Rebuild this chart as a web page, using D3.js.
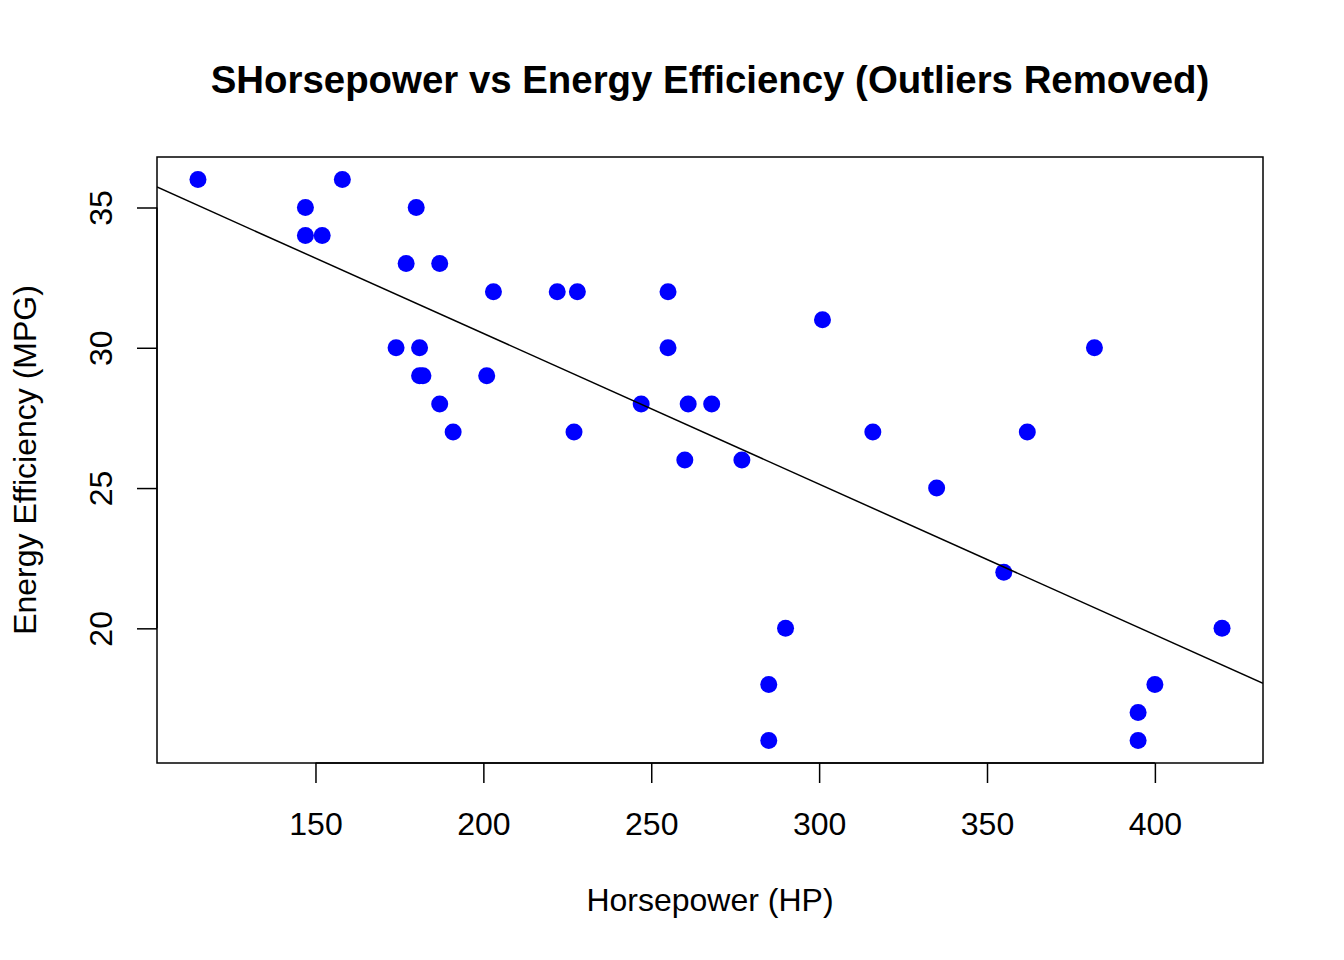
<!DOCTYPE html>
<html>
<head>
<meta charset="utf-8">
<script src="https://cdn.jsdelivr.net/npm/d3@7"></script>
<style>
  body { margin: 0; background: #fff; }
  text { font-family: "Liberation Sans", Arial, sans-serif; }
</style>
</head>
<body>
<div id="chart"></div>
<script>
// horsepower / mpg pairs
const horsepower = [115, 147, 147, 152, 158, 180, 177, 187, 174, 181, 181, 182, 187, 191, 201, 203,
  222, 228, 227, 247, 255, 255, 261, 268, 260, 277, 301, 316, 335, 355, 362, 382,
  285, 285, 290, 395, 395, 400, 420];
const mpg = [36, 35, 34, 34, 36, 35, 33, 33, 30, 30, 29, 29, 28, 27, 29, 32,
  32, 32, 27, 28, 32, 30, 28, 28, 26, 26, 31, 27, 25, 22, 27, 30,
  18, 16, 20, 17, 16, 18, 20];
const xTicks = [150, 200, 250, 300, 350, 400];
const yTicks = [20, 25, 30, 35];
// fitted line (intercept, slope)
const fitCoef = [41.25, -0.0537];

const W = 1344, H = 960;
const plot = {left: 157, right: 1263, top: 157, bottom: 763};

const pts = horsepower.map((h, i) => ({hp: h, mpg: mpg[i]}));

// R style 4% padding
const pad = ([a, b]) => [a - (b - a) * 0.04, b + (b - a) * 0.04];
const x = d3.scaleLinear().domain(pad(d3.extent(horsepower))).range([plot.left, plot.right]);
const y = d3.scaleLinear().domain(pad(d3.extent(mpg))).range([plot.bottom, plot.top]);

const svg = d3.select("#chart").append("svg")
  .attr("width", W).attr("height", H);

svg.append("text")
  .attr("x", (plot.left + plot.right) / 2).attr("y", 93)
  .attr("text-anchor", "middle")
  .attr("font-size", 38.4).attr("font-weight", "bold")
  .text("SHorsepower vs Energy Efficiency (Outliers Removed)");

// x axis
const xAxis = svg.append("g")
  .attr("transform", `translate(0,${plot.bottom})`)
  .call(d3.axisBottom(x).tickValues(xTicks).tickSize(20));
xAxis.select(".domain")
  .attr("d", `M${x(xTicks[0])},0H${x(xTicks[xTicks.length - 1])}`);
xAxis.selectAll(".tick text").attr("y", 72).attr("dy", null);

// y axis
const yAxis = svg.append("g")
  .attr("transform", `translate(${plot.left},0)`)
  .call(d3.axisLeft(y).tickValues(yTicks).tickSize(20));
yAxis.select(".domain")
  .attr("d", `M0,${y(yTicks[0])}V${y(yTicks[yTicks.length - 1])}`);
yAxis.selectAll(".tick text")
  .attr("x", null).attr("dy", null)
  .attr("text-anchor", "middle")
  .attr("transform", "translate(-45,0) rotate(-90)");

svg.selectAll(".tick text").attr("font-size", 32).attr("fill", "#000")
  .attr("font-family", '"Liberation Sans", Arial, sans-serif');
svg.selectAll(".tick line, .domain").attr("stroke", "#000").attr("stroke-width", 1.5);

svg.append("text")
  .attr("x", (plot.left + plot.right) / 2).attr("y", 911)
  .attr("text-anchor", "middle").attr("font-size", 32)
  .text("Horsepower (HP)");

svg.append("text")
  .attr("transform", `translate(36,${(plot.top + plot.bottom) / 2}) rotate(-90)`)
  .attr("text-anchor", "middle").attr("font-size", 32)
  .text("Energy Efficiency (MPG)");

// box
svg.append("rect")
  .attr("x", plot.left).attr("y", plot.top)
  .attr("width", plot.right - plot.left).attr("height", plot.bottom - plot.top)
  .attr("fill", "none").attr("stroke", "#000").attr("stroke-width", 1.5);

svg.append("defs").append("clipPath").attr("id", "clip")
  .append("rect")
  .attr("x", plot.left).attr("y", plot.top)
  .attr("width", plot.right - plot.left).attr("height", plot.bottom - plot.top);

svg.selectAll("circle.pt")
  .data(pts)
  .enter()
  .append("circle")
  .attr("class", "pt")
  .attr("cx", d => x(d.hp))
  .attr("cy", d => y(d.mpg))
  .attr("r", 8.5)
  .attr("fill", "#0000ff");

const [x0, x1] = x.domain();
svg.append("line")
  .attr("clip-path", "url(#clip)")
  .attr("x1", x(x0)).attr("y1", y(fitCoef[0] + fitCoef[1] * x0))
  .attr("x2", x(x1)).attr("y2", y(fitCoef[0] + fitCoef[1] * x1))
  .attr("stroke", "#000").attr("stroke-width", 1.5);
</script>
</body>
</html>
